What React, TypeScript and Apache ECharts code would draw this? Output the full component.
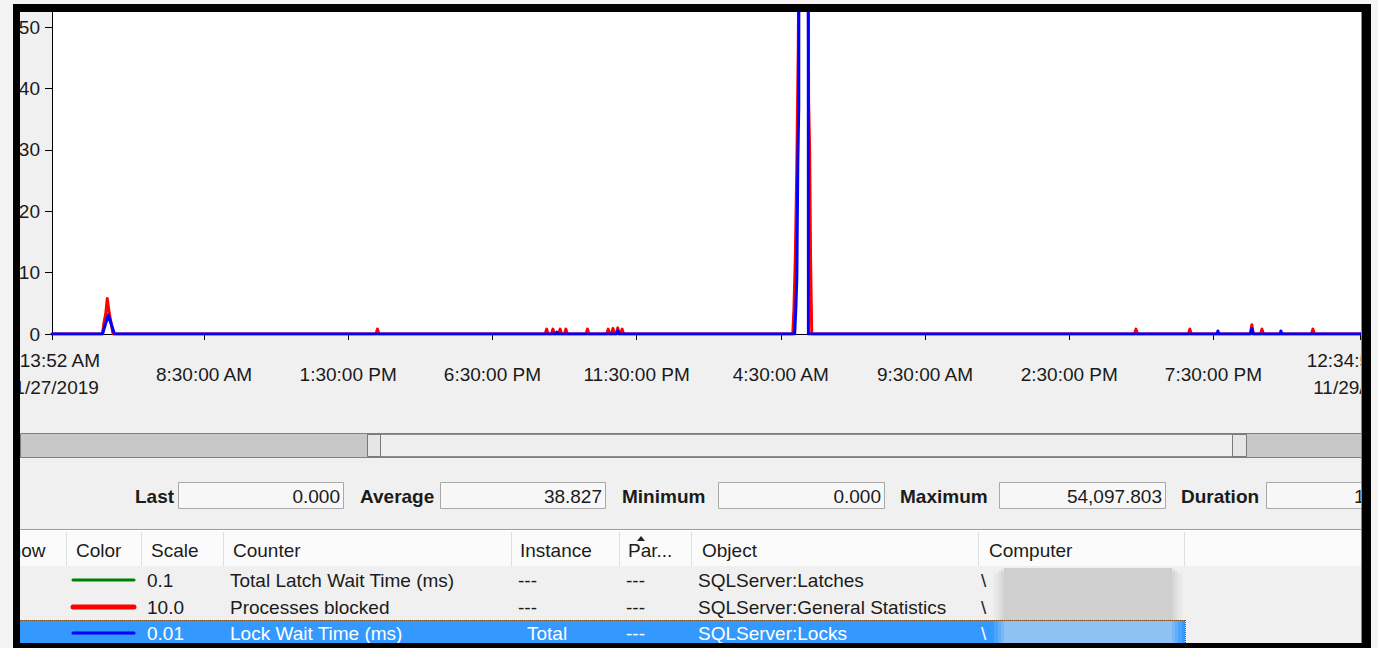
import React, { useEffect, useRef } from 'react';
import * as echarts from 'echarts';

const FONT = '"Liberation Sans", Arial, sans-serif';

// x values are minutes elapsed since 3:13:52 AM, 11/27/2019
const tickMinutes = [0, 316.13, 616.13, 916.13, 1216.13, 1516.13, 1816.13, 2116.13, 2416.13, 2721];
const tickLabels = [
  '3:13:52 AM\n11/27/2019',
  '8:30:00 AM',
  '1:30:00 PM',
  '6:30:00 PM',
  '11:30:00 PM',
  '4:30:00 AM',
  '9:30:00 AM',
  '2:30:00 PM',
  '7:30:00 PM',
  '12:34:52 AM\n11/29/2019',
];
const yTickValues = [0, 10, 20, 30, 40, 50];

// Processes blocked, scale 10.0
const blockedPoints: [number, number][] = [
  [0, 0],
  [105, 0], [108, 1.8], [112, 3.4], [115, 5.8], [119, 3.4], [123, 1.8], [127, 0],
  [674, 0], [677, 0.8], [680, 0],
  [1026, 0], [1029, 0.8], [1032, 0],
  [1039, 0], [1042, 0.8], [1045, 0],
  [1054, 0], [1057, 0.8], [1060, 0],
  [1066, 0], [1069, 0.8], [1072, 0],
  [1111, 0], [1114, 0.8], [1117, 0],
  [1154, 0], [1157, 0.8], [1160, 0],
  [1164, 0], [1167, 0.9], [1170, 0],
  [1174, 0], [1177, 1.0], [1180, 0],
  [1183, 0], [1186, 0.8], [1189, 0],
  [1541, 0], [1543.5, 4.2], [1546.5, 13.2], [1549.5, 27.8], [1552.5, 47], [1555, 80],
  [1572.5, 80], [1574, 38], [1576, 30.5], [1578, 12.5], [1580.5, 0],
  [2252, 0], [2255, 0.8], [2258, 0],
  [2364, 0], [2367, 0.8], [2370, 0],
  [2493, 0], [2496, 1.5], [2499, 0],
  [2514, 0], [2517, 0.8], [2520, 0],
  [2620, 0], [2623, 0.8], [2626, 0],
  [2726, 0],
];

// Lock Wait Time (ms), scale 0.01
const lockPoints: [number, number][] = [
  [0, 0],
  [105, 0], [117, 3.1], [130, 0],
  [1047, 0], [1050, 0.3], [1053, 0],
  [1174, 0], [1177, 0.5], [1180, 0],
  [1545, 0], [1547.7, 4.7], [1549.5, 9.3], [1551.5, 27.8], [1553.5, 37], [1556, 400],
  [1564, 540.98], [1572, 300], [1573.5, 0],
  [2424, 0], [2425.5, 0.5], [2427, 0],
  [2493, 0], [2496, 0.9], [2499, 0],
  [2555, 0], [2556.5, 0.5], [2558, 0],
  [2726, 0],
];

const statLabels = ['Last', 'Average', 'Minimum', 'Maximum', 'Duration'];
const statValues = ['0.000', '38.827', '0.000', '54,097.803', '1:21:21:00'];

const tableHeaders = ['Show', 'Color', 'Scale', 'Counter', 'Instance', 'Par...', 'Object', 'Computer'];
const counterColors = ['#008000', '#ff0000', '#0000ff'];
const counterScales = ['0.1', '10.0', '0.01'];
const counterNames = ['Total Latch Wait Time (ms)', 'Processes blocked', 'Lock Wait Time (ms)'];
const counterInstances = ['---', '---', 'Total'];
const counterParents = ['---', '---', '---'];
const counterObjects = ['SQLServer:Latches', 'SQLServer:General Statistics', 'SQLServer:Locks'];
const counterComputers = ['\\', '\\', '\\'];

function buildGraphics() {
  const g: any[] = [];
  const text = (x: number, y: number, s: string, o: any = {}) =>
    g.push({
      type: 'text',
      z: o.z ?? 50,
      style: {
        text: s,
        x,
        y,
        fill: o.fill ?? '#1b1b1b',
        fontSize: o.size ?? 19,
        fontFamily: FONT,
        fontWeight: o.weight ?? 'normal',
        align: o.align ?? 'left',
        verticalAlign: 'middle',
      },
    });
  const rect = (x: number, y: number, w: number, h: number, fill: string, stroke?: string, z = 40, extra: any = {}) =>
    g.push({
      type: 'rect',
      z,
      shape: { x, y, width: w, height: h, r: extra.r ?? 0 },
      style: { fill, stroke: stroke ?? 'none', lineWidth: stroke ? 1 : 0, ...extra },
    });
  const line = (x1: number, y1: number, x2: number, y2: number, stroke: string, lw = 1, z = 45, extra: any = {}) =>
    g.push({ type: 'line', z, shape: { x1, y1, x2, y2 }, style: { stroke, lineWidth: lw, ...extra } });

  // scrollbar
  rect(20.5, 433.5, 1342, 24, '#c8c8c8', '#7f7f7f');
  rect(367.5, 434.5, 879, 22, '#efefef', '#8c8c8c');
  rect(367.5, 434.5, 13, 22, '#e6e6e6', '#7a7a7a', 41);
  rect(1232.5, 434.5, 14, 22, '#e6e6e6', '#7a7a7a', 41);

  // statistics row
  const labelX = [135, 360, 622, 900, 1181];
  const boxX = [178, 440, 718, 999, 1266];
  const boxW = [165, 165, 166, 166, 191];
  statLabels.forEach((s, i) => {
    text(labelX[i], 496, s, { weight: 'bold' });
    rect(boxX[i] + 0.5, 482.5, boxW[i], 26, '#f7f7f7', '#a9a9a9');
    if (i < 4) text(boxX[i] + boxW[i] - 3, 496, statValues[i], { align: 'right' });
    else text(1354, 496, statValues[i]);
  });

  // separator
  line(20, 529.5, 1362, 529.5, '#9c9c9c', 1);
  line(20, 530.5, 1362, 530.5, '#ffffff', 1);

  // header row
  rect(20, 531, 1342, 35, '#fbfbfb');
  [66, 141, 223, 511, 619, 691, 978, 1184].forEach((x) => line(x + 0.5, 532, x + 0.5, 566, '#e0e0e0', 1));
  const headerX = [-2, 76, 151, 233, 520, 628, 702, 989];
  tableHeaders.forEach((s, i) => text(headerX[i], 550, s));
  g.push({
    type: 'polygon',
    z: 52,
    shape: { points: [[637, 541], [641, 536], [645, 541]] },
    style: { fill: '#222222' },
  });

  // counter rows
  const rowY = [580, 607, 633];
  rect(20, 620, 1165, 24, '#3399ff', undefined, 42);
  line(20, 620.5, 1185, 620.5, '#7a4a1a', 1, 46, { lineDash: [1, 1] });
  line(1185.5, 620, 1185.5, 643, '#7a4a1a', 1, 46, { lineDash: [1, 1] });
  counterNames.forEach((name, i) => {
    const y = rowY[i];
    const sel = i === 2;
    const fill = sel ? '#ffffff' : '#1b1b1b';
    line(73, y, 134, y, counterColors[i], i === 1 ? 5 : 3, 47, { lineCap: 'round' });
    text(147, y, counterScales[i], { fill });
    text(230, y, name, { fill });
    text(sel ? 527 : 518, y, counterInstances[i], { fill });
    text(626, y, counterParents[i], { fill });
    text(698, y, counterObjects[i], { fill });
    text(981, y, counterComputers[i], { fill });
  });
  // blurred computer name (soft edges imitated with layered translucent rects)
  [
    [10, 0.25],
    [6, 0.35],
    [3, 0.5],
    [0, 1],
  ].forEach(([d, op]) => {
    rect(1004 - d, 568 + d / 2, 168 + 2 * d, 52 - d / 2, '#cfcfcf', undefined, 60, { opacity: op });
    rect(1004 - d, 621, 168 + 2 * d, 22, '#8ec2f3', undefined, 61, { opacity: op });
  });

  // outer page background and black frame (cover overflow)
  rect(0, 0, 13, 648, '#f4f4f4', undefined, 100);
  rect(0, 0, 1378, 4, '#f4f4f4', undefined, 100);
  rect(1371, 0, 7, 648, '#f4f4f4', undefined, 100);
  line(1361.5, 12, 1361.5, 643, '#8a8a8a', 1, 101);
  rect(13, 4, 7, 644, '#000000', undefined, 102);
  rect(13, 4, 1358, 8, '#000000', undefined, 102);
  rect(1362, 4, 9, 644, '#000000', undefined, 102);
  rect(13, 643, 1358, 5, '#000000', undefined, 102);
  return g;
}

export default function App() {
  const ref = useRef<HTMLDivElement>(null);
  useEffect(() => {
    if (!ref.current) return;
    const chart = echarts.init(ref.current, null, { renderer: 'svg' });
    const lineSeries = (name: string, data: [number, number][], color: string) => ({
      name,
      type: 'line',
      data,
      showSymbol: false,
      symbol: 'none',
      clip: true,
      lineStyle: { color, width: 3, join: 'round', cap: 'round' },
      itemStyle: { color },
      emphasis: { disabled: true },
      z: 3,
    });
    chart.setOption({
      animation: false,
      backgroundColor: '#f0f0f0',
      textStyle: { fontFamily: FONT },
      grid: {
        left: 52,
        right: 15.6,
        top: 4,
        bottom: 314,
        show: true,
        backgroundColor: '#ffffff',
        borderWidth: 0,
        containLabel: false,
        outerBoundsMode: 'none',
      },
      xAxis: {
        type: 'value',
        min: 0,
        max: 2726,
        splitLine: { show: false },
        axisLine: { show: true, onZero: false, lineStyle: { color: '#000000', width: 1 } },
        axisTick: { show: true, length: 6, lineStyle: { color: '#000000' }, customValues: tickMinutes },
        axisLabel: {
          show: true,
          customValues: tickMinutes,
          color: '#1a1a1a',
          fontSize: 19,
          fontFamily: FONT,
          lineHeight: 27,
          margin: 40,
          verticalAlign: 'middle',
          formatter: (v: number) => {
            const i = tickMinutes.findIndex((t) => Math.abs(t - v) < 0.01);
            return i >= 0 ? tickLabels[i] : '';
          },
        },
      },
      yAxis: {
        type: 'value',
        min: 0,
        max: 53.8,
        splitLine: { show: false },
        axisLine: { show: true, lineStyle: { color: '#000000', width: 1 } },
        axisTick: { show: true, length: 7, lineStyle: { color: '#000000' }, customValues: yTickValues },
        axisLabel: {
          show: true,
          customValues: yTickValues,
          color: '#1a1a1a',
          fontSize: 19,
          fontFamily: FONT,
          margin: 12,
        },
      },
      series: [
        lineSeries('Processes blocked', blockedPoints, '#ff0000'),
        lineSeries('Lock Wait Time (ms)', lockPoints, '#0000ff'),
      ],
      graphic: { elements: buildGraphics() },
    });
    return () => chart.dispose();
  }, []);
  return (
    <div
      ref={ref}
      style={{ position: 'fixed', left: 0, top: 0, width: 1378, height: 648 }}
    />
  );
}
